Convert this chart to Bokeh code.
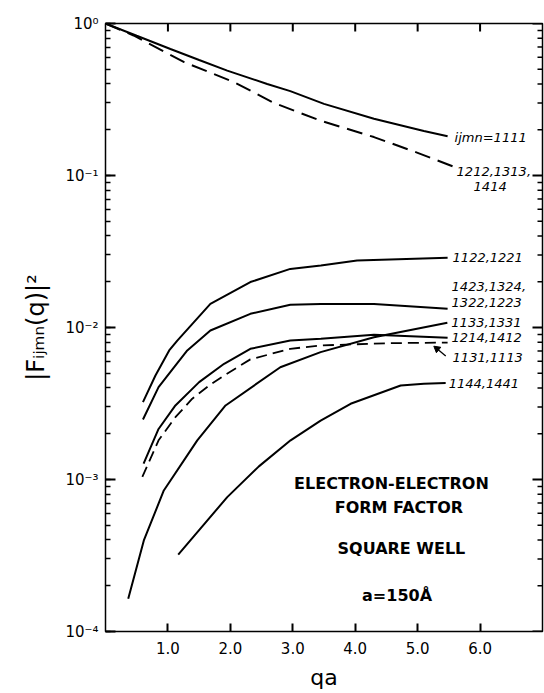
import math
from bokeh.plotting import figure
from bokeh.models import (FixedTicker, LogTicker, CustomJSTickFormatter, ColumnDataSource,
                          LabelSet)
from bokeh.core.properties import value
from bokeh.embed import file_html
from bokeh.resources import INLINE

# ---------------- data ----------------
q_1111 = [0.0, 0.5, 1.04, 1.5, 1.95, 2.59, 2.96, 3.5, 4.3, 5.1, 5.48]
f_1111 = [1.0, 0.83, 0.68, 0.575, 0.49, 0.40, 0.359, 0.296, 0.236, 0.196, 0.181]

q_1212 = [0.0, 0.45, 1.26, 2.06, 2.7, 3.45, 4.3, 5.0, 5.56]
f_1212 = [1.0, 0.834, 0.557, 0.411, 0.30, 0.229, 0.179, 0.141, 0.115]

q_1122 = [0.60, 0.80, 1.02, 1.15, 1.68, 2.32, 2.96, 3.45, 4.03, 5.48]
f_1122 = [0.00323, 0.00483, 0.00706, 0.0082, 0.0143, 0.0199, 0.0243, 0.0256, 0.0276, 0.0288]

q_1423 = [0.60, 0.85, 1.10, 1.31, 1.68, 2.32, 2.96, 3.45, 4.3, 5.48]
f_1423 = [0.00248, 0.00405, 0.00548, 0.00706, 0.00955, 0.0123, 0.0141, 0.0143, 0.0143, 0.0133]

q_1214 = [0.61, 0.85, 1.12, 1.50, 1.90, 2.32, 2.96, 3.45, 4.3, 5.48]
f_1214 = [0.00127, 0.00215, 0.00307, 0.00437, 0.00577, 0.00724, 0.0082, 0.00843, 0.00895, 0.00855]

q_1131 = [0.59, 0.85, 1.12, 1.39, 1.66, 1.90, 2.32, 2.96, 3.45, 4.57, 5.48]
f_1131 = [0.00104, 0.00181, 0.00257, 0.0034, 0.00415, 0.00483, 0.00617, 0.00724, 0.00762, 0.00789, 0.00796]

q_1133 = [0.364, 0.614, 0.934, 1.47, 1.923, 2.80, 3.446, 4.30, 5.476]
f_1133 = [1.64e-4, 3.97e-4, 8.47e-4, 1.81e-3, 3.07e-3, 5.48e-3, 6.89e-3, 8.63e-3, 0.01074]

q_1144 = [1.165, 1.95, 2.457, 2.965, 3.446, 3.926, 4.728, 5.1, 5.449]
f_1144 = [3.2e-4, 7.66e-4, 1.22e-3, 1.81e-3, 2.44e-3, 3.15e-3, 4.15e-3, 4.27e-3, 4.31e-3]

x_ticks = [1, 2, 3, 4, 5, 6]
x_tick_labels = ["1.0", "2.0", "3.0", "4.0", "5.0", "6.0"]
y_decades = [1.0, 0.1, 0.01, 0.001, 0.0001]
y_tick_labels = ["10\u2070", "10\u207b\u00b9", "10\u207b\u00b2", "10\u207b\u00b3", "10\u207b\u2074"]

curve_labels = ["ijmn=1111", "1212,1313,", "1414", "1122,1221", "1423,1324,",
                "1322,1223", "1133,1331", "1214,1412", "1131,1113", "1144,1441"]

# pointer from the "1131,1113" label to its dashed curve
arrow_q = [5.45, 5.31]
arrow_f = [6.5e-3, 7.25e-3]

block_text = ["ELECTRON-ELECTRON", "FORM FACTOR", "SQUARE WELL", "a=150\u00c5"]
block_x = [4.58, 4.70, 4.74, 4.67]
block_y = [9.37e-4, 6.58e-4, 3.52e-4, 1.73e-4]

# ---------------- figure ----------------
INK = "#000000"
FONT = "DejaVu Sans"
X0, X1 = 0, 7
Y0, Y1 = 1e-4, 1.0

p = figure(width=544, height=693, x_range=(X0, X1), y_range=(Y0, Y1),
           y_axis_type="log", output_backend="svg", toolbar_location=None,
           min_border_left=105, min_border_right=2, min_border_top=23,
           min_border_bottom=62)
p.grid.visible = False
p.outline_line_color = INK
p.outline_line_width = 1.5


def style(ax, minor=True):
    ax.axis_line_color = INK
    ax.major_tick_line_color = INK
    ax.major_tick_line_width = 2
    ax.major_tick_in = 10
    ax.major_tick_out = 0
    if minor:
        ax.minor_tick_line_color = INK
        ax.minor_tick_line_width = 1.5
        ax.minor_tick_in = 5
        ax.minor_tick_out = 0
    else:
        ax.minor_tick_line_color = None
    ax.major_label_text_font = FONT
    ax.major_label_text_color = INK
    ax.major_label_text_font_size = "15px"


# left (log) axis
yax = p.yaxis[0]
yax.ticker = LogTicker(num_minor_ticks=10)
yax.formatter = CustomJSTickFormatter(args=dict(ylabs=y_tick_labels), code="""
    const i = Math.round(-Math.log10(tick));
    return (i >= 0 && i < ylabs.length) ? ylabs[i] : '';
""")
style(yax)
yax.major_label_standoff = 7
yax.axis_label = "|F\u1d62\u2c7c\u2098\u2099(q)|\u00b2"
yax.axis_label_text_font = FONT
yax.axis_label_text_font_style = "normal"
yax.axis_label_text_font_size = "24px"
yax.axis_label_text_color = INK
yax.axis_label_standoff = 12

# bottom axis
xax = p.xaxis[0]
xax.ticker = FixedTicker(ticks=x_ticks)
xax.formatter = CustomJSTickFormatter(args=dict(xt=x_ticks, xlabs=x_tick_labels), code="""
    const i = xt.indexOf(Math.round(tick));
    return i >= 0 ? xlabs[i] : '';
""")
style(xax, minor=False)
xax.major_tick_in = 8
xax.major_label_standoff = 10
xax.axis_label = "qa"
xax.axis_label_text_font = FONT
xax.axis_label_text_font_style = "normal"
xax.axis_label_text_font_size = "22px"
xax.axis_label_text_color = INK
xax.axis_label_standoff = 8

# ---------------- curves ----------------
solid = [(q_1111, f_1111), (q_1122, f_1122), (q_1423, f_1423),
         (q_1214, f_1214), (q_1133, f_1133), (q_1144, f_1144)]
for qx, fy in solid:
    p.line(qx, fy, line_color=INK, line_width=2.0)

p.line(q_1212, f_1212, line_color=INK, line_width=2.0, line_dash="16 8")
p.line(q_1131, f_1131, line_color=INK, line_width=1.8, line_dash="11 6")

# pointer: short line with a small triangular head
p.line(arrow_q, arrow_f, line_color=INK, line_width=1.3)
p.scatter(x=arrow_q[-1:], y=arrow_f[-1:], marker="triangle", size=7, angle=0.9,
          fill_color=INK, line_color=INK)

# right and top edges: inward ticks drawn as short screen-length rays
y_minor = [m * d for d in y_decades[1:] for m in range(2, 10)]
p.ray(x=[X1] * len(y_decades), y=y_decades, length=10, length_units="screen",
      angle=math.pi, line_color=INK, line_width=2)
p.ray(x=[X1] * len(y_minor), y=y_minor, length=5, length_units="screen",
      angle=math.pi, line_color=INK, line_width=1.5)
p.ray(x=x_ticks, y=[Y1] * len(x_ticks), length=8, length_units="screen",
      angle=-math.pi / 2, line_color=INK, line_width=2)

# ---------------- curve labels (annotations) ----------------
anchors = [(q_1111, f_1111), (q_1212, f_1212), (q_1212, f_1212), (q_1122, f_1122),
           (q_1423, f_1423), (q_1423, f_1423), (q_1133, f_1133), (q_1214, f_1214),
           (q_1131, f_1131), (q_1144, f_1144)]
lab_dx = [7, 4, 21, 5, 4, 4, 4, 4, 5, 3]
lab_up = [-1, -5, -20, 0, 22, 6, 0, 0, -15, 0]
lab_src = ColumnDataSource(dict(
    x=[a[0][-1] for a in anchors],
    y=[a[1][-1] for a in anchors],
    text=curve_labels, dx=lab_dx, dy=lab_up))
p.add_layout(LabelSet(x="x", y="y", text="text", x_offset="dx", y_offset="dy",
                      source=lab_src, text_font=value(FONT), text_font_style="italic",
                      text_font_size="13px", text_color=INK,
                      text_baseline="middle", text_align="left"))

# ---------------- text block ----------------
blk_src = ColumnDataSource(dict(x=block_x, y=block_y, text=block_text))
p.add_layout(LabelSet(x="x", y="y", text="text", source=blk_src, text_font=value(FONT),
                      text_font_style="bold", text_font_size="16px", text_color=INK,
                      text_align="center", text_baseline="middle"))

open("out.html", "w").write(file_html(p, INLINE))
